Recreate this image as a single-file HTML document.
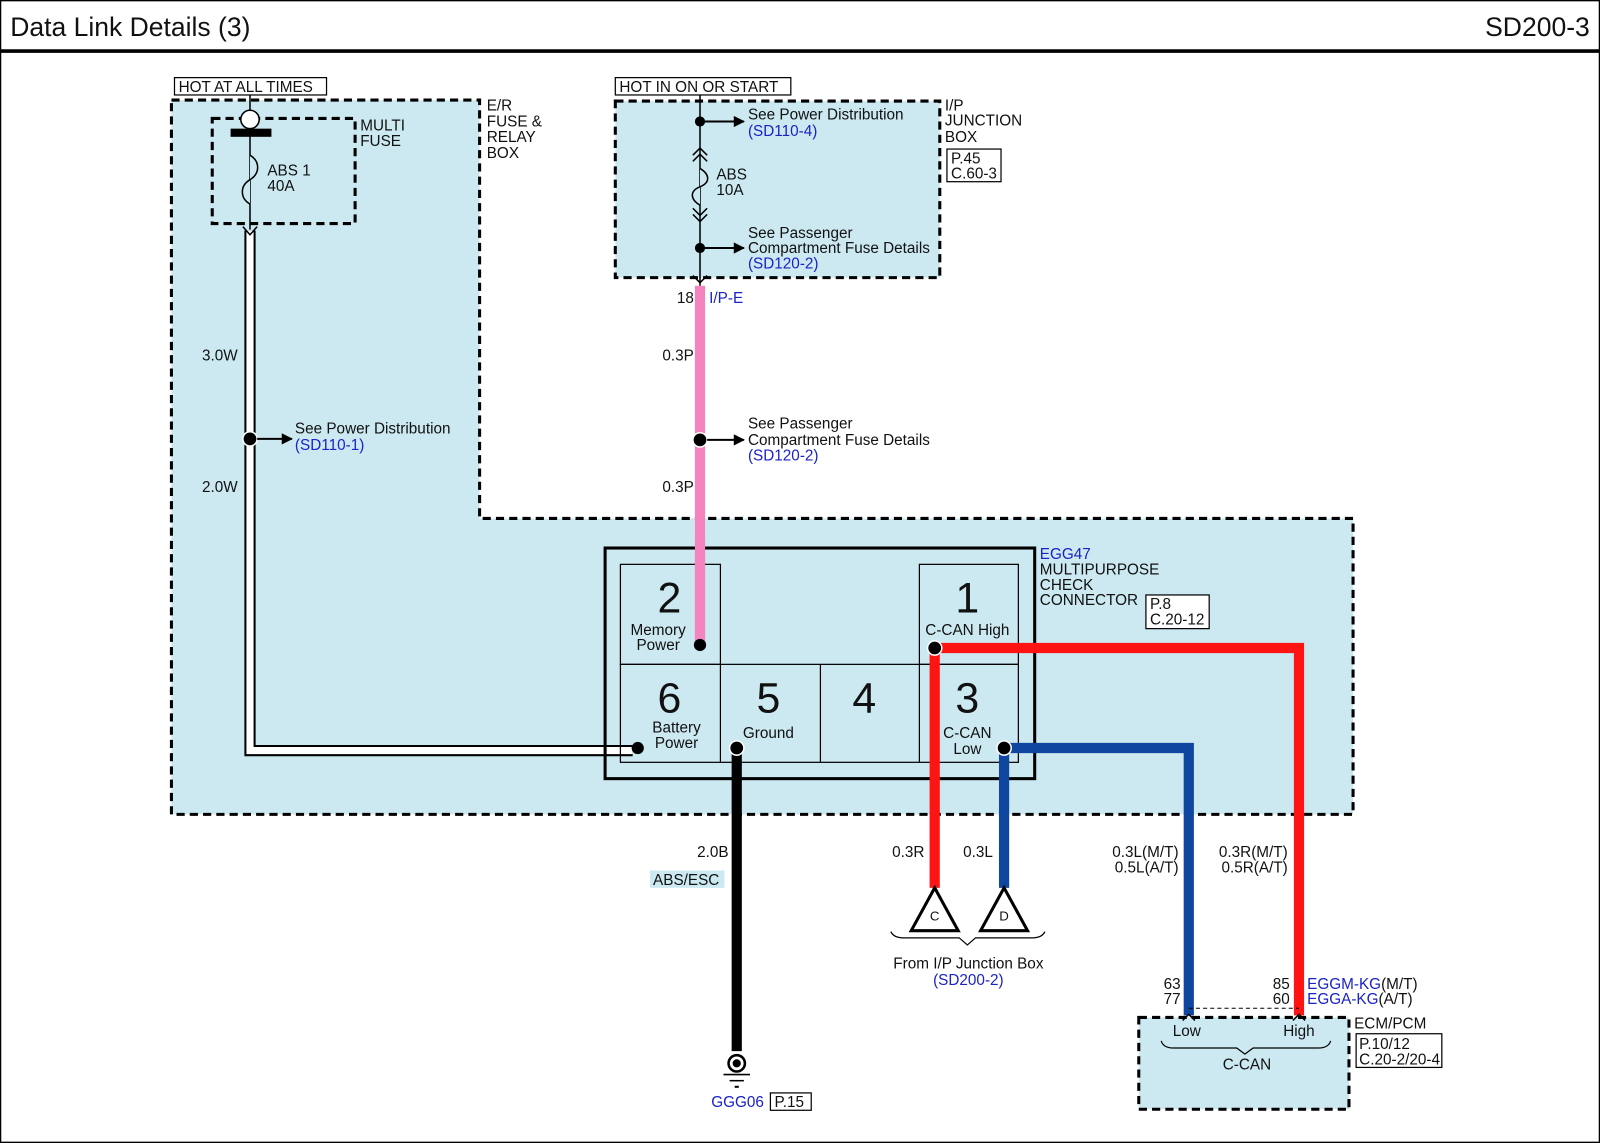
<!DOCTYPE html>
<html><head><meta charset="utf-8"><style>
html,body{margin:0;padding:0;background:#fff}
svg{display:block}
text{font-family:"Liberation Sans",Arial,sans-serif;fill:#111}
.b{fill:#1a22c8}
</style></head><body>
<svg width="1600" height="1143" viewBox="0 0 1568 1120" xmlns="http://www.w3.org/2000/svg">
<defs>
<marker id="ar" viewBox="0 0 10 10" refX="9" refY="5" markerWidth="12" markerHeight="11" orient="auto" markerUnits="userSpaceOnUse"><path d="M0,0 L10,5 L0,10z" fill="#000"/></marker>
</defs>
<rect x="0.5" y="0.5" width="1567" height="1119" fill="#fff" stroke="#000" stroke-width="1.5"/>
<text x="10" y="35" font-size="26">Data Link Details (3)</text>
<text x="1558" y="35" font-size="26" text-anchor="end">SD200-3</text>
<line x1="0" y1="50" x2="1568" y2="50" stroke="#000" stroke-width="3.5"/>

<path d="M168,98 H470 V508 H1326 V798 H168 Z" fill="#cce9f1" stroke="#000" stroke-width="3" stroke-dasharray="8,5"/>
<rect x="208" y="116" width="140" height="103" fill="none" stroke="#000" stroke-width="3" stroke-dasharray="8,5"/>
<rect x="603" y="99" width="318" height="173" fill="#cce9f1" stroke="#000" stroke-width="3" stroke-dasharray="8,5"/>

<g font-size="15">
<rect x="171" y="76" width="149" height="17" fill="#fff" stroke="#000" stroke-width="1.2"/>
<text x="175" y="90">HOT AT ALL TIMES</text>
<rect x="603" y="76" width="172" height="17" fill="#fff" stroke="#000" stroke-width="1.2"/>
<text x="607" y="90">HOT IN ON OR START</text>
<text><tspan x="353" y="128">MULTI</tspan><tspan x="353" y="143">FUSE</tspan></text>
<text><tspan x="477" y="108">E/R</tspan><tspan x="477" y="124">FUSE &amp;</tspan><tspan x="477" y="139">RELAY</tspan><tspan x="477" y="155">BOX</tspan></text>
<text><tspan x="926" y="108">I/P</tspan><tspan x="926" y="123">JUNCTION</tspan><tspan x="926" y="139">BOX</tspan></text>
<rect x="928" y="146" width="53" height="32" fill="#fff" stroke="#000" stroke-width="1.2"/>
<text><tspan x="932" y="160">P.45</tspan><tspan x="932" y="175">C.60-3</tspan></text>

<line x1="245" y1="93" x2="245" y2="225" stroke="#000" stroke-width="1.5"/>
<circle cx="245" cy="117" r="9" fill="#fff" stroke="#000" stroke-width="1.5"/>
<rect x="226" y="126" width="40" height="8" fill="#000"/>
<path d="M245,152 c10,6 10,18 0,24 c-10,6 -10,18 0,24" fill="#cce9f1" stroke="#000" stroke-width="1.5"/>
<text><tspan x="262" y="172">ABS 1</tspan><tspan x="262" y="187">40A</tspan></text>
<path d="M245,226 V735.5 H620" fill="none" stroke="#000" stroke-width="11"/>
<path d="M245,226 V735.5 H620" fill="none" stroke="#fff" stroke-width="7"/>
<path d="M238,222 L245,230 L252,222" fill="none" stroke="#000" stroke-width="1.5"/>
<circle cx="245" cy="430" r="7" fill="#000" stroke="#fff" stroke-width="1.5"/>
<line x1="252" y1="430" x2="286" y2="430" stroke="#000" stroke-width="2" marker-end="url(#ar)"/>
<text x="289" y="425">See Power Distribution</text>
<text x="289" y="441" class="b">(SD110-1)</text>
<text x="233" y="353" text-anchor="end">3.0W</text>
<text x="233" y="482" text-anchor="end">2.0W</text>

<line x1="686" y1="93" x2="686" y2="280" stroke="#000" stroke-width="1.5"/>
<circle cx="686" cy="119" r="5" fill="#000"/>
<line x1="686" y1="119" x2="729" y2="119" stroke="#000" stroke-width="2" marker-end="url(#ar)"/>
<text x="733" y="117">See Power Distribution</text>
<text x="733" y="133" class="b">(SD110-4)</text>
<path d="M679,152 L686,145 L693,152 M679,158 L686,151 L693,158" fill="none" stroke="#000" stroke-width="1.5"/>
<path d="M686,165 c10,6 10,14 0,18 c-10,4 -10,12 0,18" fill="#cce9f1" stroke="#000" stroke-width="1.5"/>
<text><tspan x="702" y="176">ABS</tspan><tspan x="702" y="191">10A</tspan></text>
<path d="M679,204 L686,211 L693,204 M679,210 L686,217 L693,210" fill="none" stroke="#000" stroke-width="1.5"/>
<circle cx="686" cy="243" r="5" fill="#000"/>
<line x1="686" y1="243" x2="729" y2="243" stroke="#000" stroke-width="2" marker-end="url(#ar)"/>
<text><tspan x="733" y="233">See Passenger</tspan><tspan x="733" y="248">Compartment Fuse Details</tspan></text>
<text x="733" y="263" class="b">(SD120-2)</text>
<line x1="686" y1="280" x2="686" y2="632" stroke="#f384c0" stroke-width="10"/>
<path d="M679,270 L686,277 L693,270" fill="none" stroke="#000" stroke-width="1.5"/>
<text x="680" y="297" text-anchor="end">18</text>
<text x="695" y="297" class="b">I/P-E</text>
<text x="680" y="353" text-anchor="end">0.3P</text>
<text x="680" y="482" text-anchor="end">0.3P</text>
<circle cx="686" cy="431" r="7" fill="#000" stroke="#fff" stroke-width="1.5"/>
<line x1="693" y1="431" x2="729" y2="431" stroke="#000" stroke-width="2" marker-end="url(#ar)"/>
<text><tspan x="733" y="420">See Passenger</tspan><tspan x="733" y="436">Compartment Fuse Details</tspan></text>
<text x="733" y="451" class="b">(SD120-2)</text>
</g>

<rect x="593" y="537" width="421" height="226" fill="none" stroke="#000" stroke-width="3"/>
<g fill="none" stroke="#000" stroke-width="1.2">
<rect x="608" y="553" width="98" height="98"/>
<rect x="901" y="553" width="97" height="98"/>
<rect x="608" y="651" width="390" height="96"/>
<line x1="706" y1="651" x2="706" y2="747"/><line x1="804" y1="651" x2="804" y2="747"/><line x1="901" y1="651" x2="901" y2="747"/>
</g>
<line x1="686" y1="530" x2="686" y2="632" stroke="#f384c0" stroke-width="10"/>
<g font-size="42" text-anchor="middle">
<text x="656" y="600">2</text><text x="948" y="600">1</text>
<text x="656" y="698">6</text><text x="753" y="698">5</text><text x="847" y="698">4</text><text x="948" y="698">3</text>
</g>
<g font-size="15" text-anchor="middle">
<text x="645" y="622">Memory</text><text x="645" y="637">Power</text>
<text x="948" y="622">C-CAN High</text>
<text x="663" y="718">Battery</text><text x="663" y="733">Power</text>
<text x="753" y="723">Ground</text>
<text x="948" y="723">C-CAN</text><text x="948" y="739">Low</text>
</g>
<g font-size="15">
<text x="1019" y="548" class="b">EGG47</text>
<text><tspan x="1019" y="563">MULTIPURPOSE</tspan><tspan x="1019" y="578">CHECK</tspan><tspan x="1019" y="593">CONNECTOR</tspan></text>
<rect x="1123" y="583" width="62" height="33" fill="#fff" stroke="#000" stroke-width="1.2"/>
<text><tspan x="1127" y="597">P.8</tspan><tspan x="1127" y="612">C.20-12</tspan></text>
</g>

<path d="M916,870 V635 H1273 V995" fill="none" stroke="#ff1414" stroke-width="10"/>
<path d="M984,870 V733 H1165 V995" fill="none" stroke="#0e46a0" stroke-width="10"/>
<line x1="722" y1="733" x2="722" y2="1030" stroke="#000" stroke-width="10"/>
<circle cx="686" cy="632" r="6" fill="#000"/>
<circle cx="916" cy="635" r="7" fill="#000" stroke="#fff" stroke-width="1.5"/>
<circle cx="984" cy="733" r="7" fill="#000" stroke="#fff" stroke-width="1.5"/>
<circle cx="625" cy="733" r="6" fill="#000"/>
<circle cx="722" cy="733" r="7" fill="#000" stroke="#fff" stroke-width="1.5"/>

<g font-size="15">
<text x="714" y="840" text-anchor="end">2.0B</text>
<rect x="637" y="853" width="73" height="17" fill="#cce9f1"/>
<text x="640" y="867">ABS/ESC</text>
<text x="906" y="840" text-anchor="end">0.3R</text>
<text x="973" y="840" text-anchor="end">0.3L</text>
<text text-anchor="end"><tspan x="1155" y="840">0.3L(M/T)</tspan><tspan x="1155" y="855">0.5L(A/T)</tspan></text>
<text text-anchor="end"><tspan x="1262" y="840">0.3R(M/T)</tspan><tspan x="1262" y="855">0.5R(A/T)</tspan></text>
</g>

<path d="M916,870 L939,912 L893,912 Z" fill="#fff" stroke="#000" stroke-width="3"/>
<path d="M984,870 L1007,912 L961,912 Z" fill="#fff" stroke="#000" stroke-width="3"/>
<text font-size="13" x="916" y="902" text-anchor="middle">C</text>
<text font-size="13" x="984" y="902" text-anchor="middle">D</text>
<path d="M873,913 Q876,919 885,919 H940 L948,926 L956,919 H1012 Q1021,919 1024,913" fill="none" stroke="#000" stroke-width="1.2"/>
<text font-size="15" x="949" y="949" text-anchor="middle">From I/P Junction Box</text>
<text font-size="15" x="949" y="965" text-anchor="middle" class="b">(SD200-2)</text>

<circle cx="722" cy="1042" r="8" fill="#fff" stroke="#000" stroke-width="2.5"/>
<circle cx="722" cy="1042" r="4" fill="#000"/>
<line x1="709" y1="1053" x2="735" y2="1053" stroke="#000" stroke-width="1.5"/>
<line x1="715" y1="1059" x2="729" y2="1059" stroke="#000" stroke-width="1.5"/>
<line x1="720" y1="1065" x2="724" y2="1065" stroke="#000" stroke-width="2"/>
<g font-size="15">
<text x="697" y="1085" class="b">GGG06</text>
<rect x="755" y="1071" width="40" height="17" fill="#fff" stroke="#000" stroke-width="1.2"/>
<text x="759" y="1085">P.15</text>
</g>

<line x1="1165" y1="988" x2="1273" y2="988" stroke="#000" stroke-width="1" stroke-dasharray="4,3"/>
<rect x="1116" y="997" width="206" height="90" fill="#cce9f1" stroke="#000" stroke-width="3" stroke-dasharray="8,5"/>
<path d="M1159,1000 L1165,994 L1171,1000 M1267,1000 L1273,994 L1279,1000" fill="none" stroke="#000" stroke-width="1.5"/>
<g font-size="15">
<text text-anchor="end"><tspan x="1157" y="969">63</tspan><tspan x="1157" y="984">77</tspan></text>
<text text-anchor="end"><tspan x="1264" y="969">85</tspan><tspan x="1264" y="984">60</tspan></text>
<text x="1281" y="969"><tspan class="b">EGGM-KG</tspan>(M/T)</text>
<text x="1281" y="984"><tspan class="b">EGGA-KG</tspan>(A/T)</text>
<text x="1163" y="1015" text-anchor="middle">Low</text>
<text x="1273" y="1015" text-anchor="middle">High</text>
<text x="1222" y="1048" text-anchor="middle">C-CAN</text>
<text x="1327" y="1008">ECM/PCM</text>
<rect x="1329" y="1013" width="84" height="33" fill="#fff" stroke="#000" stroke-width="1.2"/>
<text><tspan x="1332" y="1028">P.10/12</tspan><tspan x="1332" y="1043">C.20-2/20-4</tspan></text>
</g>
<path d="M1138,1020 Q1140,1027 1150,1027 H1212 L1220,1033 L1228,1027 H1292 Q1302,1027 1304,1020" fill="none" stroke="#000" stroke-width="1.2"/>
</svg>
</body></html>
